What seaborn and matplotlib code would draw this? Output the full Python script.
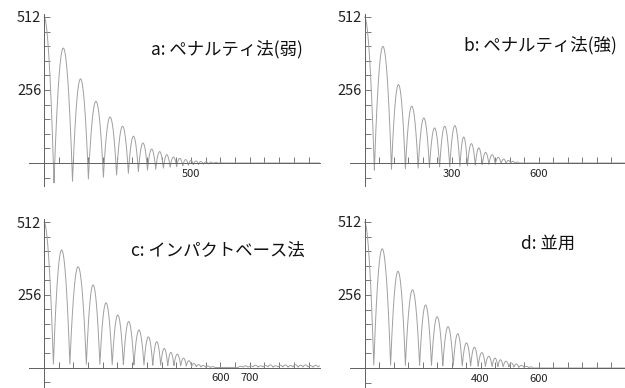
import numpy as np
import pandas as pd
import matplotlib
matplotlib.use("Agg")
import matplotlib.pyplot as plt
import seaborn as sns

# contact (trough) times, trough heights and apex heights of each bounce
a_trough_t = [34, 97, 151, 202, 247, 287, 321, 352, 380, 406, 429, 451, 472, 491, 508, 525, 542, 559, 576, 592, 608]
a_trough_y = [-70, -64, -56, -50, -42, -36, -30, -25, -22, -18, -15, -12, -10, -8, -6, -5, -4, -3, -2, -1, 0]
a_peak_y = [403, 295, 216, 161, 129, 94, 70, 49, 40, 29, 21, 16, 12, 9, 7, 5, 4, 3, 2, 1]

b_trough_t = [34, 93, 141, 185, 224, 259, 294, 329, 355, 382, 406, 429, 451, 471, 488, 504, 519, 534]
b_trough_y = [-25, -22, -20, -18, -16, -14, -14, -12, -10, -8, -6, -5, -4, -3, -2, -2, -1, 0]
b_peak_y = [409, 275, 199, 158, 123, 129, 131, 91, 68, 53, 37, 29, 20, 14, 9, 6, 3]

c_trough_t = [32, 88, 144, 190, 232, 270, 306, 340, 370, 397, 421, 442, 465, 484, 502, 518, 534, 550, 566, 582,
              660, 677, 694, 711, 728, 745, 762, 779, 796, 813, 830, 847, 864, 881, 898, 915, 932, 949]
c_trough_y = [12, 12, 11, 11, 10, 10, 9, 9, 8, 8, 7, 7, 6, 5, 4, 3, 2, 1, 0, 0,
              0, 1, 1, 2, 1, 2, 2, 1, 2, 2, 1, 2, 1, 2, 2, 1, 2, 1]
c_peak_y = [414, 355, 291, 228, 185, 162, 132, 108, 91, 67, 53, 47, 33, 24, 14, 10, 7, 5, 3, 0,
            4, 6, 5, 8, 6, 7, 9, 6, 8, 9, 7, 10, 8, 9, 7, 8, 6]

d_trough_t = [32, 90, 141, 190, 231, 270, 306, 337, 366, 392, 417, 440, 460, 478, 498, 515, 532, 550, 567, 581]
d_trough_y = [10, 10, 9, 9, 9, 8, 8, 7, 7, 6, 6, 5, 5, 4, 4, 3, 2, 2, 1, 0]
d_peak_y = [418, 339, 274, 221, 180, 145, 120, 88, 73, 54, 41, 35, 29, 24, 18, 14, 9, 6, 4]

titles = ["a: ペナルティ法(弱)", "b: ペナルティ法(強)", "c: インパクトベース法", "d: 並用"]
x_labels = [{500: "500"}, {300: "300", 600: "600"}, {600: "600", 700: "700"}, {400: "400", 600: "600"}]
start_y = 512


def bounce_curve(trough_t, trough_y, peak_y, t_end):
    # first half arc from the drop height, then one arc per bounce
    ts, ys = [], []
    s = np.linspace(0, 1, 60)
    ts.append(s * trough_t[0])
    ys.append(trough_y[0] + (start_y - trough_y[0]) * (1 - s ** 2))
    for k, h in enumerate(peak_y):
        t0, t1 = trough_t[k], trough_t[k + 1]
        b0, b1 = trough_y[k], trough_y[k + 1]
        ts.append(t0 + s * (t1 - t0))
        ys.append(b0 + (b1 - b0) * s + (h - (b0 + b1) / 2) * 4 * s * (1 - s))
    ts.append(np.array([trough_t[-1], t_end]))
    ys.append(np.array([trough_y[-1], 0]))
    return pd.DataFrame({"t": np.concatenate(ts), "y": np.concatenate(ys)})


sns.set_style("white")
plt.rcParams["font.family"] = ["Noto Sans CJK JP", "DejaVu Sans"]

fig = plt.figure(figsize=(6.25, 3.88), dpi=100)
W, H = 625, 388

# panel geometry in pixels: origin x, zero y, px per unit x, px per unit y
panels = [
    (44, 163, 0.294, 0.2852, -50, 940, -80, 522),
    (364.5, 163, 0.290, 0.2852, -50, 900, -80, 522),
    (44, 367.5, 0.294, 0.2838, -50, 940, -73, 522),
    (364.5, 368, 0.290, 0.2852, -50, 900, -73, 522),
]
data = [
    (a_trough_t, a_trough_y, a_peak_y),
    (b_trough_t, b_trough_y, b_peak_y),
    (c_trough_t, c_trough_y, c_peak_y),
    (d_trough_t, d_trough_y, d_peak_y),
]
title_pos = [(303, 49), (617, 45), (305, 251), (575, 244)]

line_col = "#a0a0a0"
axis_col = "#606060"

for i in range(4):
    ox, oy, sx, sy, x0, x1, y0, y1 = panels[i]
    left = ox + x0 * sx
    right = ox + x1 * sx
    top = oy - y1 * sy
    bottom = oy - y0 * sy
    ax = fig.add_axes([left / W, (H - bottom) / H, (right - left) / W, (bottom - top) / H])
    ax.patch.set_alpha(0)
    df = bounce_curve(*data[i], x1)
    sns.lineplot(data=df, x="t", y="y", ax=ax, color=line_col, linewidth=0.7,
                 sort=False, estimator=None)
    ax.set_xlim(x0, x1)
    ax.set_ylim(y0, y1)
    ax.set_xlabel("")
    ax.set_ylabel("")
    for sp in ["top", "right"]:
        ax.spines[sp].set_visible(False)
    for sp in ["left", "bottom"]:
        ax.spines[sp].set_position(("data", 0))
        ax.spines[sp].set_color(axis_col)
        ax.spines[sp].set_linewidth(0.7)

    xt = list(range(50, int(x1), 50))
    ax.set_xticks(xt)
    ax.set_xticklabels([x_labels[i].get(v, "") for v in xt])
    ax.set_yticks([256, 512])
    ax.set_yticklabels(["256", "512"])
    ax.set_yticks([-51.2, 51.2, 102.4, 153.6, 204.8, 307.2, 358.4, 409.6, 460.8], minor=True)
    ax.tick_params(axis="x", which="both", bottom=True, direction="in", length=4, width=0.6,
                   color=axis_col, labelsize=8, pad=4, labelcolor="#222222")
    ax.tick_params(axis="y", which="both", left=True, direction="in", length=4, width=0.6,
                   color=axis_col, labelsize=10.5, pad=2, labelcolor="#222222")

    fig.text(title_pos[i][0] / W, (H - title_pos[i][1]) / H, titles[i],
             ha="right", va="center", fontsize=12.5, color="#111111")

fig.savefig("out.png", dpi=100)
